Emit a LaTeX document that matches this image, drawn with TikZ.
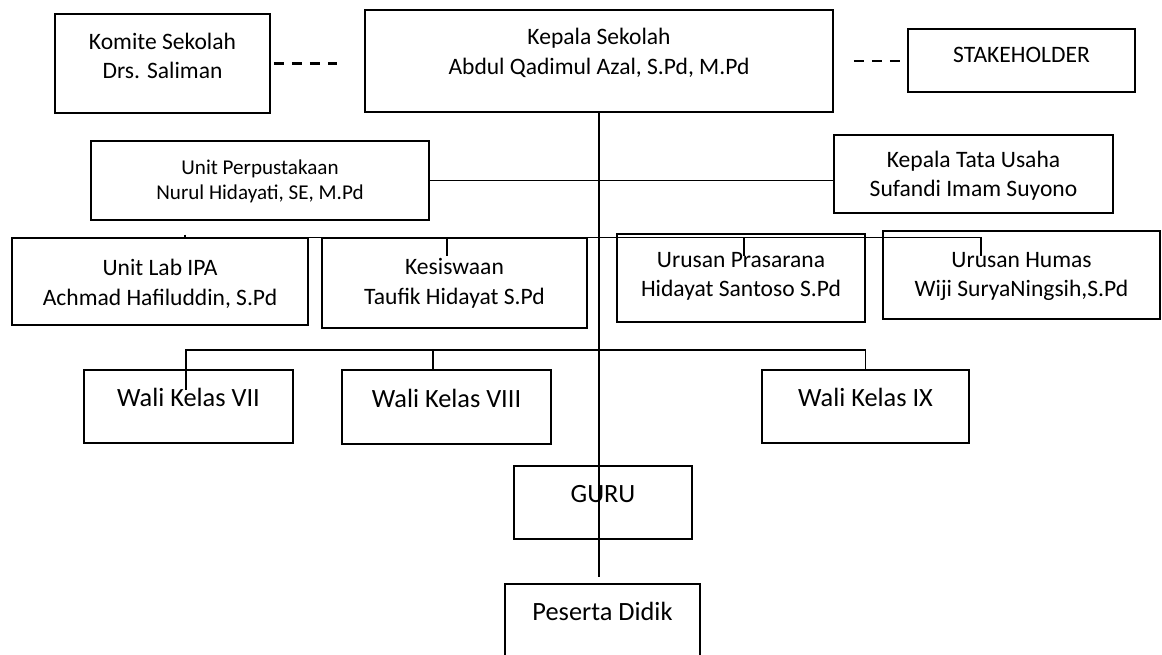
\documentclass[tikz,border=0pt]{standalone}
\usepackage{fontspec}
\setmainfont{Carlito}
\tikzset{kotak/.style={draw, line width=1pt, inner sep=0pt, align=center,
   font=\fontsize{13.4}{16.6}\selectfont, text height=10pt},
 geser/.style={text depth=#1},
 dua/.style={text height=30pt},
 garis/.style={line width=1pt},
 putus/.style={line width=1.4pt, dash pattern=on 0.2cm off 0.16cm},
 besar/.style={font=\fontsize{15}{18}\selectfont},
 kecil/.style={font=\fontsize{12}{14.7}\selectfont},
}

\begin{document}
\begin{tikzpicture}[x=0.02cm,y=-0.02cm]
    \useasboundingbox (0,0) rectangle (1162,654);
    % pimpinan
    \node[kotak, dua, minimum width=4.3cm, minimum height=1.98cm, geser=12.4pt] (komite) at (162.5,63.5) {Komite Sekolah\\Drs. Saliman};
    \node[kotak, dua, minimum width=9.36cm, minimum height=2.04cm, geser=15.2pt] (kepsek) at (599,61) {Kepala Sekolah\\Abdul Qadimul Azal, S.Pd, M.Pd};
    \node[kotak, minimum width=4.54cm, minimum height=1.26cm, geser=7.4pt] (stake) at (1021.5,60.5) {STAKEHOLDER};
    \node[kotak, kecil, dua, minimum width=6.76cm, minimum height=1.58cm, geser=8pt] (perpus) at (260,180.5) {Unit Perpustakaan\\Nurul Hidayati, SE, M.Pd};
    \node[kotak, dua, minimum width=5.58cm, minimum height=1.56cm, geser=4.4pt] (tu) at (973.5,174) {Kepala Tata Usaha\\Sufandi Imam Suyono};
    % urusan
    \node[kotak, dua, minimum width=5.92cm, minimum height=1.74cm, geser=3.2pt] (lab) at (160,281.5) {Unit Lab IPA\\Achmad Hafiluddin, S.Pd};
    \node[kotak, dua, minimum width=5.3cm, minimum height=1.8cm, geser=6pt] (kesiswaan) at (454.5,283) {Kesiswaan\\Taufik Hidayat S.Pd};
    \node[kotak, dua, minimum width=4.96cm, minimum height=1.76cm, geser=8.4pt] (sarpras) at (741,278) {Urusan Prasarana\\Hidayat Santoso S.Pd};
    \node[kotak, dua, minimum width=5.54cm, minimum height=1.76cm, geser=5pt] (humas) at (1021.5,275) {Urusan Humas\\Wiji SuryaNingsih,S.Pd};
    % wali kelas
    \node[kotak, besar, minimum width=4.18cm, minimum height=1.46cm, geser=10pt] (wali7) at (188.5,406.5) {Wali Kelas VII};
    \node[kotak, besar, minimum width=4.18cm, minimum height=1.48cm, geser=10pt] (wali8) at (446.5,407) {Wali Kelas VIII};
    \node[kotak, besar, minimum width=4.14cm, minimum height=1.46cm, geser=10pt] (wali9) at (865.5,406.5) {Wali Kelas IX};
    \node[kotak, besar, minimum width=3.56cm, minimum height=1.46cm, geser=10pt] (guru) at (603,502.5) {GURU};
    \node[kotak, besar, minimum width=3.9cm, minimum height=1.8cm, geser=19.4pt] (peserta) at (602.5,629) {Peserta Didik};
    % garis koordinasi
    \draw[putus, shorten <=0.06cm, shorten >=0.54cm] (komite.east) -- (komite.east -| kepsek.west);
    \draw[putus, shorten <=0.4cm, shorten >=0.14cm] (kepsek.east) -- (kepsek.east -| stake.west);
    % garis komando
    \draw[garis, shorten >=0.12cm] (kepsek.south) -- (kepsek.south |- peserta.north);
    \draw[garis] (perpus.east) -- (perpus.east -| tu.west);
    \coordinate (bus2) at (185,237.5);
    \draw[garis] (bus2) ++(0,-3) -- (bus2) -- (981,237.5) -- ++(0,18);
    \foreach \tx in {447,744} \draw[garis] (\tx,237.5) -- ++(0,18);
    \coordinate (bus3) at (186,350);
    \draw[garis] (bus3) ++(0,40) -- (bus3) -| (wali9.north);
    \draw[garis] (bus3 -| 433,0) -- ++(0,20);
\end{tikzpicture}
\end{document}
